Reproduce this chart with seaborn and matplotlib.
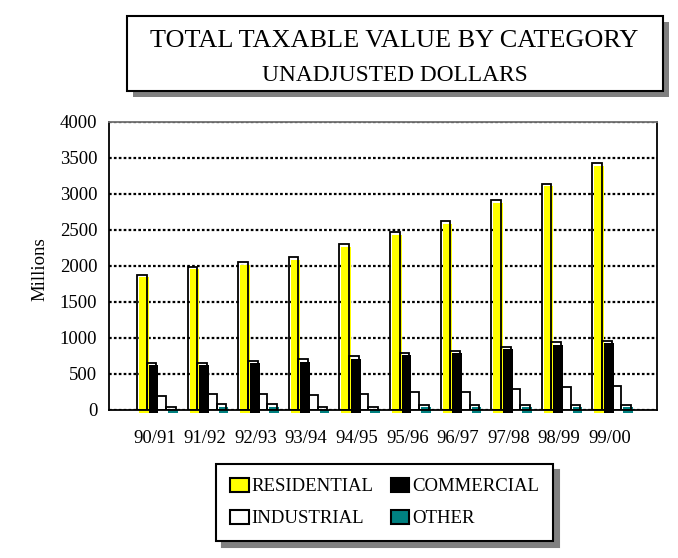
import numpy as np
import pandas as pd
import matplotlib
matplotlib.use("Agg")
import matplotlib.pyplot as plt
import matplotlib.transforms as mtransforms
from matplotlib.patches import Rectangle
import seaborn as sns

years = ['90/91', '91/92', '92/93', '93/94', '94/95',
         '95/96', '96/97', '97/98', '98/99', '99/00']
categories = ['RESIDENTIAL', 'COMMERCIAL', 'INDUSTRIAL', 'OTHER']
residential = [1880, 1990, 2050, 2120, 2300, 2470, 2620, 2910, 3140, 3430]
commercial = [655, 655, 685, 705, 750, 795, 825, 880, 940, 965]
industrial = [195, 220, 220, 215, 225, 255, 255, 285, 315, 335]
other = [45, 80, 80, 40, 45, 75, 75, 75, 75, 75]
colors = ['#FFFF00', '#000000', '#FFFFFF', '#008080']

df = pd.DataFrame({
    'Year': years * 4,
    'Category': np.repeat(categories, len(years)),
    'Value': residential + commercial + industrial + other,
})

sns.set_style('white')
plt.rcParams['font.family'] = ['Liberation Serif', 'DejaVu Serif']
plt.rcParams['text.color'] = 'black'

fig = plt.figure(figsize=(6.78, 5.58), dpi=100)
ax = fig.add_axes([109/678, 1-410/558, 548/678, 288/558])

# coloured faces, pushed a little right and down for the 3d look
sns.barplot(data=df, x='Year', y='Value', hue='Category', palette=colors,
            width=0.76, saturation=1, errorbar=None, edgecolor='none',
            linewidth=0, legend=False, ax=ax, zorder=2)
shift = mtransforms.ScaledTranslation(2/100, -2.5/100, fig.dpi_scale_trans)
for p in ax.patches:
    p.set_transform(ax.transData + shift)
    p.set_clip_on(False)
n = len(ax.patches)

# black outlines on top
sns.barplot(data=df, x='Year', y='Value', hue='Category', palette=colors,
            width=0.76, saturation=1, errorbar=None, fill=False,
            linewidth=1.3, legend=False, ax=ax, zorder=3)
for p in ax.patches[n:]:
    p.set_edgecolor('black')
    p.set_facecolor('none')

ax.set_xlim(-0.935, 9.895)
ax.set_ylim(0, 4000)
ax.set_yticks(range(0, 4001, 500))
ax.yaxis.grid(True, linestyle=(0, (1.2, 1.0)), linewidth=1.6, color='black')
ax.xaxis.grid(False)
ax.set_axisbelow(True)
ax.tick_params(axis='y', direction='in', length=7, width=1.5,
               labelsize=13.5, pad=8.5, colors='black')
ax.tick_params(axis='x', length=0, labelsize=13.5, pad=14.5, colors='black')
lab_shift = mtransforms.ScaledTranslation(-2/100, 0, fig.dpi_scale_trans)
for lab in ax.get_xticklabels():
    lab.set_transform(lab.get_transform() + lab_shift)

ax.set_xlabel('')
ax.set_ylabel('Millions', fontsize=13.5, color='black')
ax.yaxis.set_label_coords(-0.111, 0.49)

for side in ['left', 'right', 'bottom']:
    ax.spines[side].set_color('black')
    ax.spines[side].set_linewidth(1.3)
ax.spines['top'].set_color('#707070')
ax.spines['top'].set_linewidth(1.3)

# title box with grey drop shadow
fig.add_artist(Rectangle((132.7/678, 1-97/558), 536/678, 75/558,
                         transform=fig.transFigure, facecolor='#808080',
                         edgecolor='none'))
fig.add_artist(Rectangle((126.7/678, 1-91/558), 536/678, 75/558,
                         transform=fig.transFigure, facecolor='white',
                         edgecolor='black', linewidth=1.5))
fig.text(0.582, 1-47/558, 'TOTAL TAXABLE VALUE BY CATEGORY', fontsize=18.9,
         ha='center', va='baseline', color='black')
fig.text(0.582, 1-81/558, 'UNADJUSTED DOLLARS', fontsize=16.8,
         ha='center', va='baseline', color='black')

# legend, filled column by column so rows read RES/COM and IND/OTH
order = [0, 2, 1, 3]
handles = [Rectangle((0, 0), 1, 1, facecolor=colors[i], edgecolor='black',
                     linewidth=1.5) for i in order]
labels = [categories[i] for i in order]
leg = fig.legend(handles, labels, loc='upper left',
                 bbox_to_anchor=(216/678, 1-464/558), ncol=2, fontsize=13.5,
                 frameon=True, fancybox=False, framealpha=1, edgecolor='black',
                 handlelength=1.0, handleheight=0.75, handletextpad=0.15,
                 columnspacing=0.9, labelspacing=0.77, borderpad=0.75,
                 borderaxespad=0,
                 shadow={'ox': 4, 'oy': -4, 'shade': 0.5, 'alpha': 1})
leg.get_frame().set_linewidth(1.5)

fig.savefig('out.png', dpi=100)
